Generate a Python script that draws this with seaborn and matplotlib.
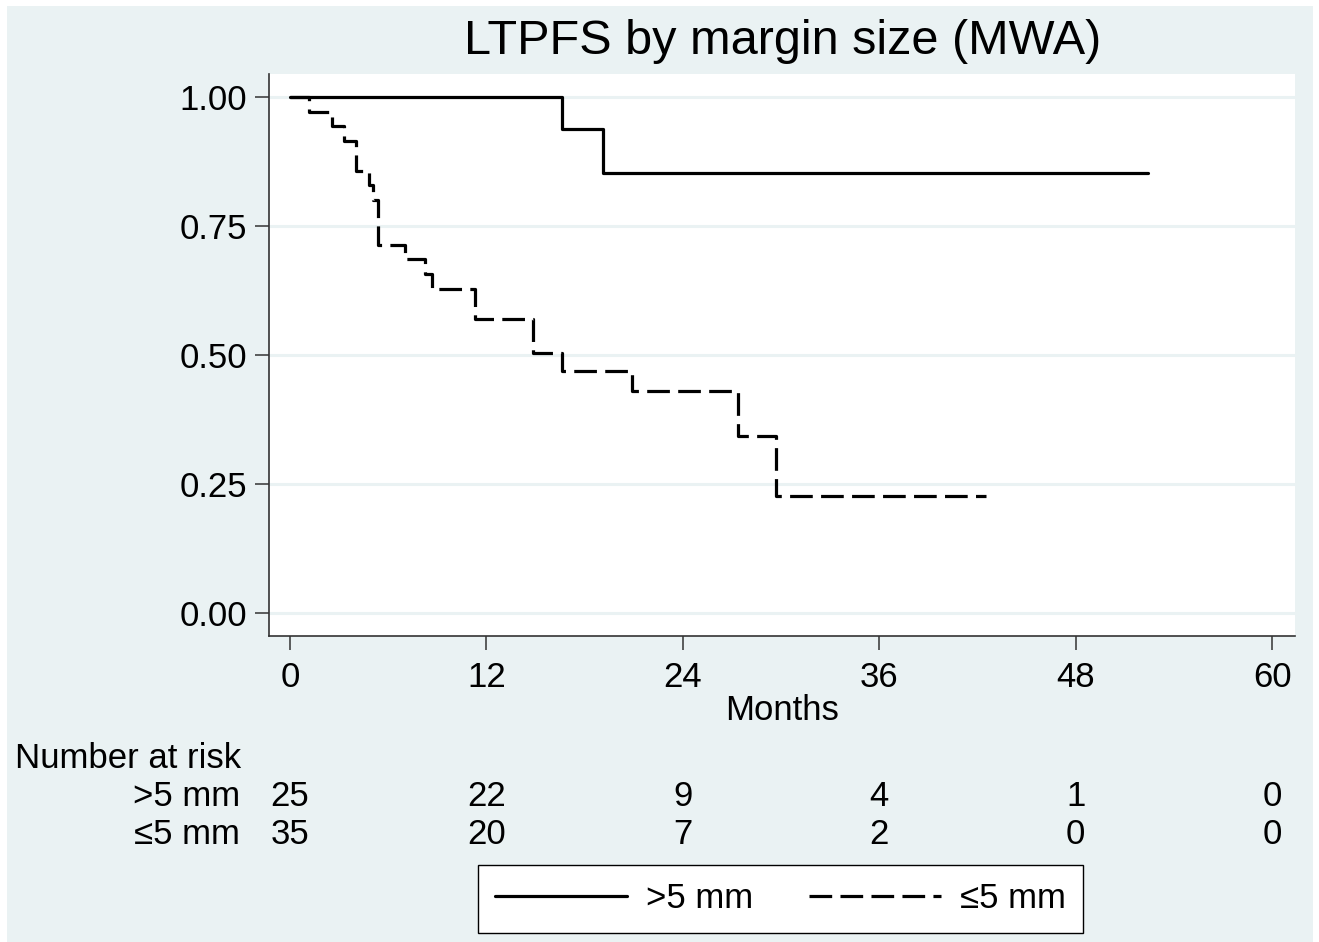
import numpy as np
import pandas as pd
import matplotlib.pyplot as plt
import seaborn as sns
from matplotlib.patches import Rectangle
from matplotlib.lines import Line2D
import matplotlib.transforms as mtransforms

# Kaplan-Meier step values
months_gt5 = [0, 16.6, 19.1, 52.4]
surv_gt5 = [1.0, 0.938, 0.853, 0.853]

months_le5 = [0, 1.17, 2.55, 3.3, 4.03, 4.85, 5.1, 5.35, 7.0, 8.25, 8.7,
              11.3, 14.85, 16.6, 20.9, 27.35, 29.7, 42.5]
surv_le5 = [1.0, 0.971, 0.943, 0.914, 0.857, 0.829, 0.80, 0.714, 0.686, 0.657,
            0.629, 0.571, 0.505, 0.469, 0.430, 0.344, 0.228, 0.228]

risk_times = [0, 12, 24, 36, 48, 60]
risk_gt5 = [25, 22, 9, 4, 1, 0]
risk_le5 = [35, 20, 7, 2, 0, 0]

label_gt5 = ">5 mm"
label_le5 = "\u22645 mm"

BG = "#EAF2F3"
AXC = "#333333"
FS = 25


def main():
    sns.set_style("ticks")
    plt.rcParams["font.family"] = ["Liberation Sans", "DejaVu Sans"]
    plt.rcParams["text.color"] = "black"

    W, H = 1319, 942
    fig = plt.figure(figsize=(W / 100, H / 100), dpi=100)
    fig.patch.set_facecolor("white")
    fig.add_artist(Rectangle((7 / W, 0), (1313 - 7) / W, (H - 6) / H,
                             transform=fig.transFigure, facecolor=BG,
                             edgecolor="none", zorder=-10))

    ax = fig.add_axes([269 / W, 1 - 635.7 / H, (1295 - 269) / W, (635.7 - 74) / H])
    ax.set_facecolor("white")

    df1 = pd.DataFrame({"t": months_gt5, "s": surv_gt5})
    df2 = pd.DataFrame({"t": months_le5, "s": surv_le5})
    dash = (0, (7.1, 2.6))
    sns.lineplot(data=df1, x="t", y="s", color="black", lw=2.3,
                 drawstyle="steps-post", estimator=None, ax=ax, zorder=3)
    sns.lineplot(data=df2, x="t", y="s", color="black", lw=2.3, linestyle=dash,
                 drawstyle="steps-post", estimator=None, ax=ax, zorder=3)

    ax.set_xlim(-1.283, 61.4)
    ax.set_ylim(-0.043, 1.0445)
    ax.set_xticks(risk_times)
    ax.set_yticks([0, 0.25, 0.5, 0.75, 1.0])
    ax.set_yticklabels([f"{v:.2f}" for v in [0, 0.25, 0.5, 0.75, 1.0]])
    ax.yaxis.grid(True, color=BG, lw=2.2, zorder=0)
    ax.xaxis.grid(False)
    ax.set_axisbelow(True)
    for s in ["top", "right"]:
        ax.spines[s].set_visible(False)
    for s in ["left", "bottom"]:
        ax.spines[s].set_color(AXC)
        ax.spines[s].set_linewidth(1.2)
    ax.tick_params(axis="both", length=10, width=1.1, color=AXC,
                   labelsize=FS, labelcolor="black")
    ax.tick_params(axis="y", pad=5.5)
    ax.tick_params(axis="x", pad=8)
    ax.set_xlabel("")
    ax.set_ylabel("")

    fig.text(782.5 / W, 1 - 42 / H, "LTPFS by margin size (MWA)",
             ha="center", va="center", fontsize=35)
    fig.text(782.5 / W, 1 - 711 / H, "Months", ha="center", va="center",
             fontsize=FS)

    # number at risk table
    trans = mtransforms.blended_transform_factory(ax.transData, fig.transFigure)
    fig.text(15 / W, 1 - 758 / H, "Number at risk", ha="left", va="center",
             fontsize=FS)
    for lab, vals, ypx in [(label_gt5, risk_gt5, 796), (label_le5, risk_le5, 834)]:
        fig.text(240 / W, 1 - ypx / H, lab, ha="right", va="center", fontsize=FS)
        for t, v in zip(risk_times, vals):
            ax.text(t, 1 - ypx / H, str(v), transform=trans, ha="center",
                    va="center", fontsize=FS, clip_on=False)

    handles = [Line2D([], [], color="black", lw=2.3),
               Line2D([], [], color="black", lw=2.3, linestyle=dash)]
    leg = fig.legend(handles, [label_gt5, label_le5], loc="center",
                     bbox_to_anchor=(780.5 / W, 1 - 899 / H), ncol=2,
                     fontsize=FS, frameon=True, fancybox=False,
                     handlelength=3.8, handletextpad=0.55, columnspacing=1.6,
                     borderpad=0.5, borderaxespad=0)
    frame = leg.get_frame()
    frame.set_edgecolor("black")
    frame.set_linewidth(1.0)
    frame.set_facecolor("white")
    frame.set_alpha(1)

    fig.savefig("out.png", dpi=100, facecolor=fig.get_facecolor())


if __name__ == "__main__":
    main()
